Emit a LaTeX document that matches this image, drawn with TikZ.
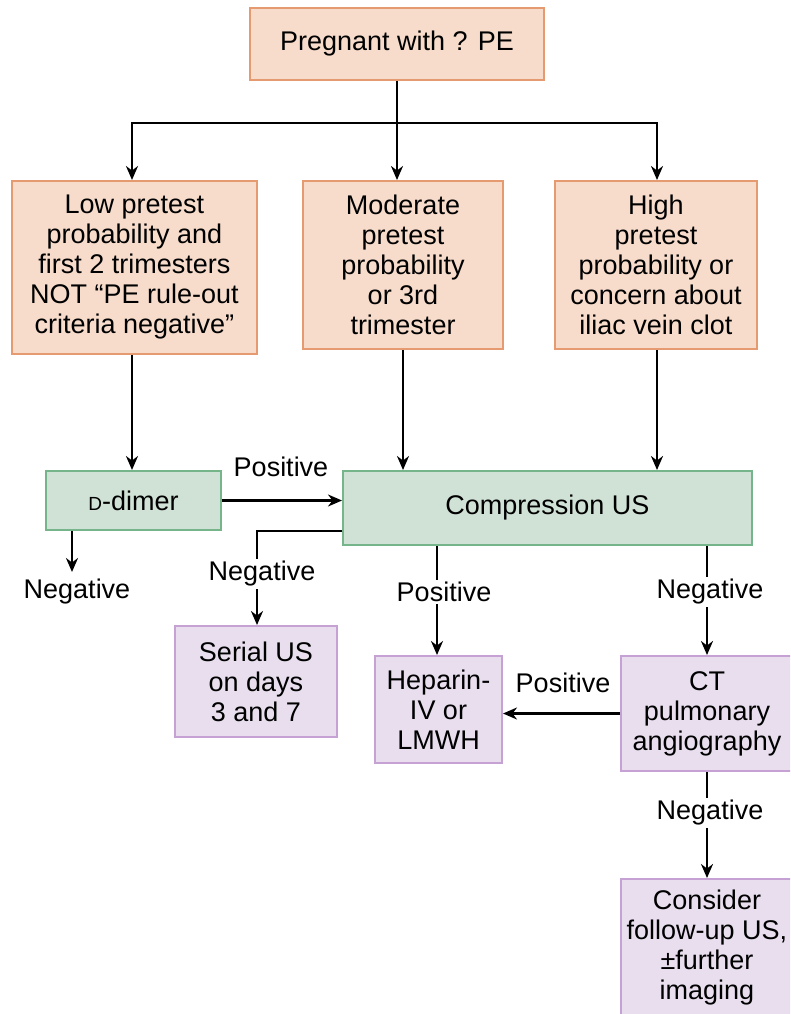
\documentclass[tikz,border=0pt]{standalone}
\usepackage{fontspec}
\setmainfont{Liberation Sans}
\usetikzlibrary{arrows.meta}
\definecolor{ofill}{HTML}{F7DCCB}
\definecolor{oline}{HTML}{E59A70}
\definecolor{gfill}{HTML}{D0E2D6}
\definecolor{gline}{HTML}{76B48A}
\definecolor{pfill}{HTML}{E8DEEE}
\definecolor{pline}{HTML}{C6A2D4}
\begin{document}
\begin{tikzpicture}[x=1pt,y=-1pt,
  box/.style={draw, line width=2pt, inner sep=0pt, align=center,
    font=\fontsize{27}{30}\selectfont},
  obox/.style={box, fill=ofill, draw=oline},
  gbox/.style={box, fill=gfill, draw=gline},
  pbox/.style={box, fill=pfill, draw=pline},
  arr/.style={line width=2.6pt, -{Stealth[length=14pt,width=12pt]}},
  ln/.style={line width=2.6pt},
  txt/.style={font=\fontsize{27}{30}\selectfont},
  lbl/.style={txt, fill=white, inner sep=2pt}]
\useasboundingbox (0,0) rectangle (790,1014);
\clip (0,0) rectangle (790,1014);
\fill[white] (0,0) rectangle (790,1014);

% boxes
\node[obox, minimum width=294pt, minimum height=72pt] (top) at (397,44) {Pregnant with ? PE};
\node[obox, minimum width=245pt, minimum height=173pt] (low) at (134.5,267.5)
  {Low pretest\\probability and\\first 2 trimesters\\NOT “PE rule-out\\criteria negative”};
\node[obox, minimum width=200pt, minimum height=168pt] (mod) at (403,265)
  {Moderate\\pretest\\probability\\or 3rd\\trimester};
\node[obox, minimum width=202pt, minimum height=168pt] (high) at (656,265)
  {High\\pretest\\probability or\\concern about\\iliac vein clot};
\node[gbox, minimum width=175pt, minimum height=59pt] (dd) at (133.5,500.5)
  {{\fontsize{19}{20}\selectfont D}-dimer};
\node[gbox, minimum width=409pt, minimum height=74pt] (cus) at (547.5,508) {Compression US};
\node[pbox, minimum width=162pt, minimum height=111pt] (serial) at (256,681.5)
  {Serial US\\on days\\3 and 7};
\node[pbox, minimum width=127pt, minimum height=107pt] (hep) at (438.5,709.5)
  {Heparin-\\IV or\\LMWH};
\node[pbox, minimum width=172pt, minimum height=115pt] (ct) at (707,713.5)
  {CT\\pulmonary\\angiography};
\node[pbox, minimum width=172pt, minimum height=138pt] (cons) at (707,948)
  {Consider\\follow-up US,\\±further\\imaging};

% top branching
\coordinate (br) at (397,123);
\draw[ln] (top.south) -- (br);
\draw[arr] (br) -- (mod.north -| br);
\draw[arr] (br) -| ([xshift=-2.5pt]low.north);
\draw[arr] (br) -| ([xshift=1pt]high.north);

% to second row
\draw[arr] ([xshift=-2.5pt]low.south) -- ([xshift=-2.5pt]low.south |- dd.north);
\draw[arr] (mod.south) -- (mod.south |- cus.north);
\draw[arr] ([xshift=1pt]high.south) -- ([xshift=1pt]high.south |- cus.north);
\draw[arr] (dd.east) -- (dd.east -| cus.west);
\node[txt] (pos1) at (281,467) {Positive};

% d-dimer negative
\coordinate (ddx) at (72,0);
\coordinate (ddend) at (72,572);
\draw[arr] (dd.south -| ddx) -- (ddend);
\node[txt] (neg1) at (77,592) {Negative};

% compression US negative -> serial
\coordinate (cn) at (300,531);
\draw[arr] (cus.west |- cn) -| ([xshift=1pt]serial.north);
\node[lbl] (neg2) at (262,574) {Negative};

% compression US positive -> heparin
\coordinate (px) at (437,0);
\draw[arr] (cus.south -| px) -- (hep.north -| px);
\node[lbl] (pos2) at (444,592) {Positive};

% compression US negative -> CT
\draw[arr] (cus.south -| ct.north) -- (ct.north);
\node[lbl] (neg3) at (710,592) {Negative};

% CT positive -> heparin
\draw[arr] (ct.west) -- (ct.west -| hep.east);
\node[txt] (pos3) at (563,683) {Positive};

% CT negative -> consider
\draw[arr] (ct.south) -- (cons.north);
\node[lbl] (neg4) at (710,813) {Negative};
\end{tikzpicture}
\end{document}
